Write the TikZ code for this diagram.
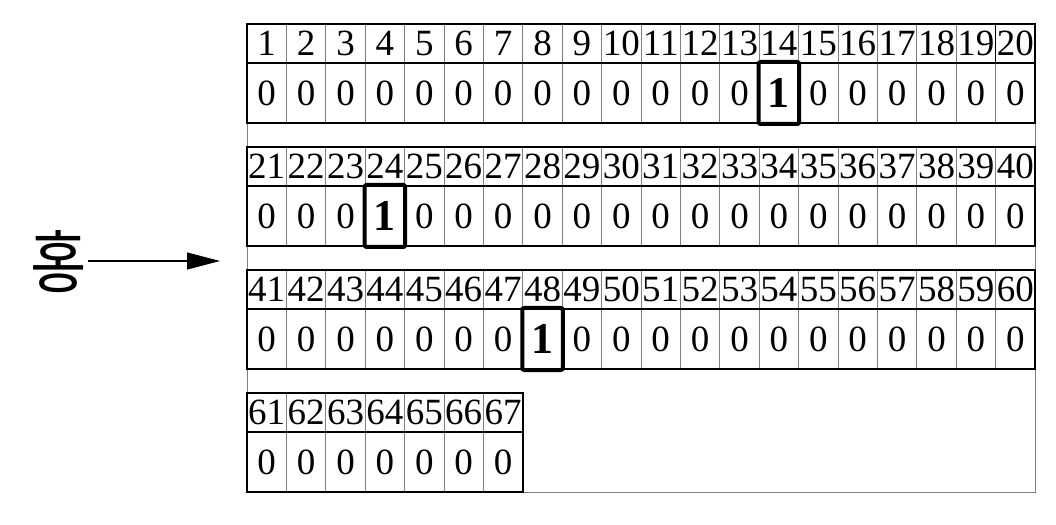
\documentclass[tikz,border=0pt]{standalone}
\usepackage{fontspec}
\setmainfont{Liberation Serif}
\newfontfamily\kofont{Noto Sans CJK KR}
\usetikzlibrary{arrows.meta}

\begin{document}
\begin{tikzpicture}[x=1bp,y=-1bp,
  idx/.style={inner sep=0pt,minimum width=39.4bp,minimum height=39bp,
    font=\fontsize{37bp}{37bp}\selectfont},
  val/.style={inner sep=0pt,minimum width=39.4bp,minimum height=60bp,
    font=\fontsize{37bp}{37bp}\selectfont},
  hit/.style={draw,line width=4bp,rounded corners=2bp,inner sep=0pt,
    minimum width=40.5bp,minimum height=62bp,
    font=\fontsize{44bp}{44bp}\selectfont\bfseries},
  cellline/.style={draw=gray,line width=1bp},
  blockframe/.style={draw=black,line width=2bp}]
\useasboundingbox (0,0) rectangle (1056,525);
\draw[cellline] (247,24) rectangle (1035,492);
% four blocks of bits
\foreach \b/\n in {0/20,1/20,2/20,3/7}{
  \pgfmathsetmacro\top{24+123*\b}
  \pgfmathtruncatemacro\m{\n-1}
  \foreach \i in {1,...,\m}
    \draw[cellline] ({247+\i*39.4},\top) -- ++(0,99);
  \draw[blockframe] (247,\top) rectangle ({247+\n*39.4},{\top+99});
  \draw[blockframe] (247,{\top+39}) -- ++({\n*39.4},0);
  \foreach \i in {1,...,\n}{
    \pgfmathtruncatemacro\k{20*\b+\i}
    \node[idx] (i\k) at ({247+(\i-0.5)*39.4},{\top+19.5}) {\k};
    \pgfmathtruncatemacro\ishit{(\k==14)||(\k==24)||(\k==48)}
    \ifnum\ishit=0
      \node[val] (v\k) at ({247+(\i-0.5)*39.4},{\top+69}) {0};
    \fi
  }
}
\draw[line width=1.5bp] (i20.north west) -- (i20.south west);
% the set bits
\foreach \k/\b/\i in {14/0/14,24/1/4,48/2/8}
  \node[hit] (v\k) at ({247+(\i-0.5)*39.4},{24+123*\b+69}) {1};
% label and arrow
\node[inner sep=0pt,xscale=0.9,transform shape] (name) at (59,262)
  {\kofont\fontsize{68bp}{68bp}\selectfont 홍};
\coordinate (tip) at (220,261);
\draw[line width=1.2bp,-{Triangle[length=33bp,width=17bp]}] (88,261) -- (tip);
\end{tikzpicture}
\end{document}
